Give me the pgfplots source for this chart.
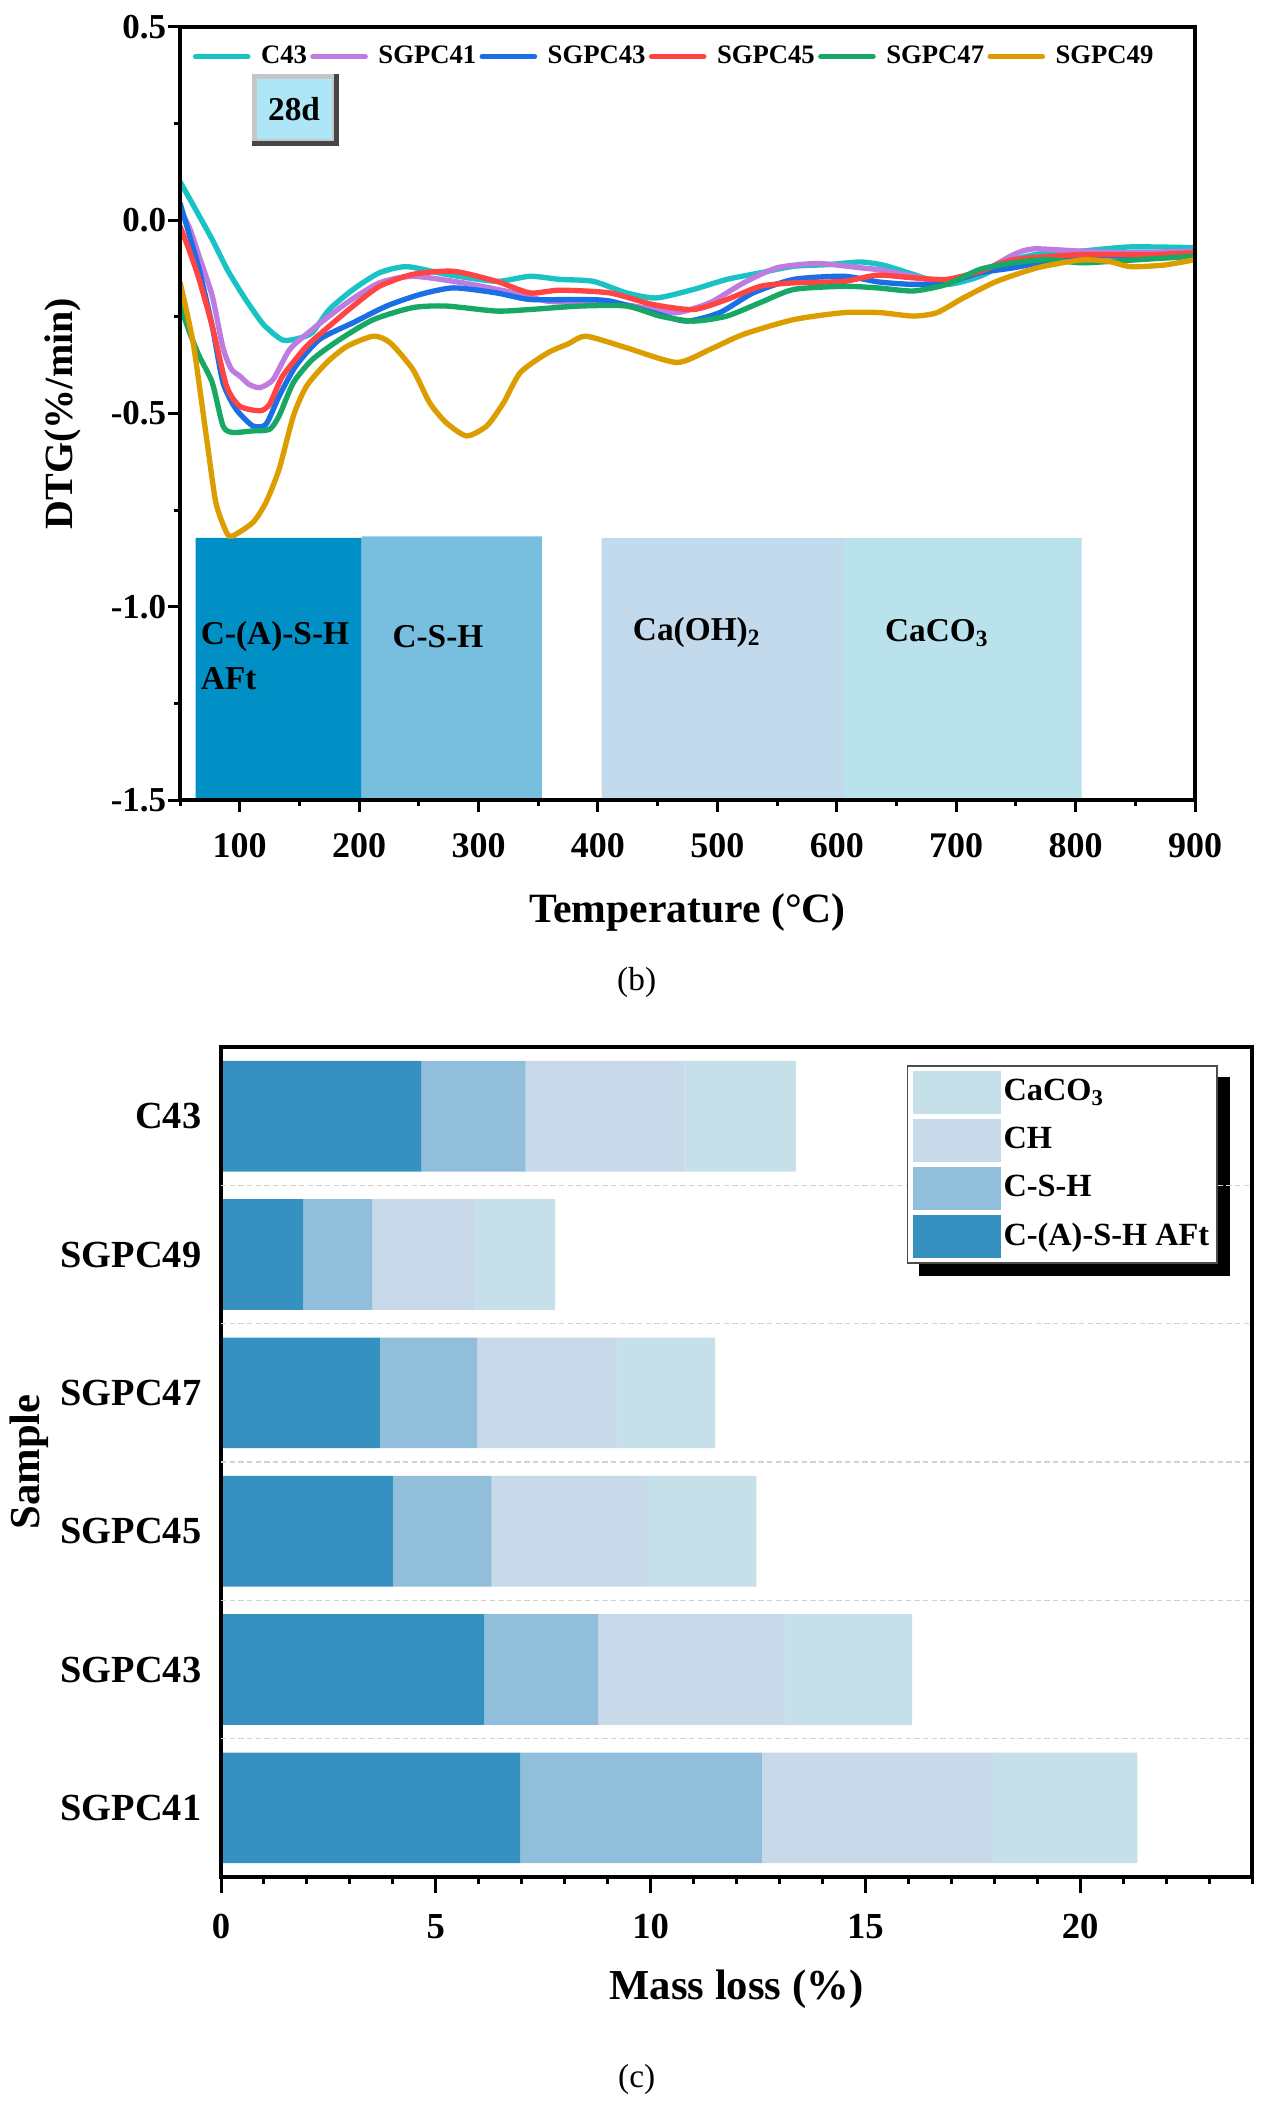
\documentclass[border=0pt]{standalone}
\usepackage{pgfplots}
\usepackage{pgfplotstable}
\pgfplotsset{compat=1.18}
\usepackage{fontspec}
\setmainfont{Liberation Serif}
\usetikzlibrary{backgrounds}

% curve colours
\definecolor{cCfour}{HTML}{19C3C3}
\definecolor{cSone}{HTML}{BE7BE0}
\definecolor{cSthree}{HTML}{1A6EE6}
\definecolor{cSfive}{HTML}{FF4444}
\definecolor{cSseven}{HTML}{17A865}
\definecolor{cSnine}{HTML}{DC9D00}
% phase bands
\definecolor{bAFt}{HTML}{0090C6}
\definecolor{bCSH}{HTML}{78BEDE}
\definecolor{bCH}{HTML}{C3D9EC}
\definecolor{bCC}{HTML}{B9E2EC}
\definecolor{boxfill}{HTML}{ADE6F6}
% stacked bars
\definecolor{sAFt}{HTML}{3690C0}
\definecolor{sCSH}{HTML}{91BEDB}
\definecolor{sCH}{HTML}{C8D9EA}
\definecolor{sCC}{HTML}{C6E0EA}

% mass loss per phase (%), samples bottom to top
\pgfplotstableread{
pos AFt  CSH  CH   CaCO3
0   6.97 5.62 5.36 3.38
1   6.13 2.65 4.36 2.95
2   4.00 2.30 3.62 2.54
3   3.70 2.26 3.27 2.27
4   1.92 1.60 2.40 1.86
5   4.66 2.43 3.70 2.59
}\massloss

\begin{document}
\begin{tikzpicture}
\useasboundingbox (0,0) rectangle (380.4pt,-633.3pt);

% ---------------- (b) DTG curves ----------------
\begin{axis}[
  at={(54pt,-240pt)}, anchor=south west,
  scale only axis, width=304.5pt, height=231.9pt,
  xmin=50, xmax=900, ymin=-1.5, ymax=0.5,
  xtick={100,200,...,900},
  minor xtick={50,150,...,850},
  ytick={-1.5,-1,-0.5,0,0.5},
  yticklabels={-1.5,-1.0,-0.5,0.0,0.5},
  minor ytick={-1.25,-0.75,-0.25,0.25},
  xtick pos=bottom, ytick pos=left, tick align=outside,
  major tick length=3.6pt, minor tick length=1.8pt,
  every tick/.style={black, line width=0.9pt},
  axis line style={line width=1.1pt},
  /pgf/number format/assume math mode=true,
  xticklabel style={font=\bfseries\fontsize{10.8}{12}\selectfont, yshift=-3pt},
  yticklabel style={font=\bfseries\fontsize{10.5}{12}\selectfont, xshift=3pt},
  xlabel={Temperature (°C)},
  ylabel={DTG(\%/min)},
  xlabel style={font=\bfseries\fontsize{12.5}{14}\selectfont, at={(axis description cs:0.5,-0.1457)}, anchor=center},
  ylabel style={font=\bfseries\fontsize{12}{14}\selectfont, at={(axis description cs:-0.1153,0.5)}, anchor=center},
  axis on top,
  legend columns=6,
  legend style={at={(axis description cs:0.012,0.9616)}, anchor=west,
    draw=none, fill=none, inner sep=0pt,
    font=\bfseries\fontsize{8}{9}\selectfont,
    nodes={inner sep=1pt},
    /tikz/every odd column/.append style={column sep=2.15pt}},
  legend image code/.code={\draw[#1, line width=1.6pt, line cap=round] (0.8pt,0pt) -- (16.5pt,0pt);},
]
% temperature ranges of the decomposing phases
\addplot[fill=bAFt, draw=none, forget plot] coordinates {(63,-1.5) (63,-0.822) (202,-0.822) (202,-1.5) (63,-1.5)};
\addplot[fill=bCSH, draw=none, forget plot] coordinates {(202,-1.5) (202,-0.818) (353,-0.818) (353,-1.5) (202,-1.5)};
\addplot[fill=bCH, draw=none, forget plot] coordinates {(403,-1.5) (403,-0.822) (606,-0.822) (606,-1.5) (403,-1.5)};
\addplot[fill=bCC, draw=none, forget plot] coordinates {(606,-1.5) (606,-0.822) (805,-0.822) (805,-1.5) (606,-1.5)};

\addplot[cCfour, line width=1.6pt, smooth, tension=0.4] coordinates {
(50,0.10) (60,0.045) (77,-0.05) (90,-0.13) (105,-0.205) (120,-0.27) (136,-0.31) (150,-0.305) (161,-0.29) (175,-0.231) (195,-0.179) (217,-0.136) (240,-0.120) (273,-0.140) (315,-0.158) (343,-0.145) (368,-0.153) (396,-0.158) (424,-0.188) (449,-0.201) (480,-0.179) (508,-0.153) (536,-0.136) (564,-0.119) (592,-0.115) (620,-0.108) (640,-0.117) (664,-0.140) (692,-0.166) (720,-0.145) (748,-0.102) (776,-0.084) (804,-0.080) (846,-0.069) (900,-0.071)};
\addlegendentry{C43}
\addplot[cSone, line width=1.6pt, smooth, tension=0.4] coordinates {
(50,0.028) (58,-0.02) (66,-0.093) (77,-0.196) (86,-0.33) (93,-0.385) (100,-0.403) (108,-0.425) (117,-0.433) (128,-0.412) (142,-0.334) (161,-0.282) (190,-0.213) (217,-0.162) (245,-0.145) (287,-0.162) (330,-0.188) (357,-0.209) (385,-0.213) (410,-0.213) (438,-0.226) (466,-0.239) (494,-0.213) (522,-0.162) (550,-0.123) (584,-0.112) (620,-0.123) (640,-0.130) (664,-0.145) (692,-0.158) (720,-0.136) (748,-0.089) (765,-0.074) (804,-0.080) (846,-0.084) (900,-0.080)};
\addlegendentry{SGPC41}
\addplot[cSthree, line width=1.6pt, smooth, tension=0.4] coordinates {
(50,0.045) (58,-0.04) (66,-0.127) (77,-0.274) (86,-0.420) (97,-0.489) (111,-0.532) (122,-0.528) (133,-0.455) (147,-0.377) (167,-0.308) (195,-0.265) (223,-0.222) (251,-0.192) (279,-0.175) (315,-0.188) (343,-0.205) (385,-0.205) (410,-0.209) (446,-0.239) (474,-0.261) (502,-0.239) (530,-0.188) (564,-0.153) (606,-0.145) (636,-0.160) (664,-0.166) (692,-0.162) (720,-0.136) (748,-0.123) (776,-0.106) (804,-0.093) (860,-0.093) (900,-0.089)};
\addlegendentry{SGPC43}
\addplot[cSfive, line width=1.6pt, smooth, tension=0.4] coordinates {
(50,-0.015) (58,-0.08) (66,-0.153) (77,-0.274) (89,-0.429) (100,-0.481) (117,-0.493) (125,-0.476) (136,-0.403) (156,-0.326) (175,-0.274) (195,-0.222) (217,-0.171) (245,-0.140) (279,-0.132) (315,-0.158) (343,-0.188) (368,-0.181) (410,-0.188) (446,-0.218) (480,-0.231) (508,-0.205) (536,-0.171) (564,-0.162) (606,-0.158) (634,-0.142) (664,-0.149) (692,-0.153) (720,-0.132) (748,-0.102) (804,-0.089) (860,-0.089) (900,-0.084)};
\addlegendentry{SGPC45}
\addplot[cSseven, line width=1.6pt, smooth, tension=0.4] coordinates {
(50,-0.22) (58,-0.29) (66,-0.351) (77,-0.420) (86,-0.532) (94,-0.549) (111,-0.545) (125,-0.541) (133,-0.506) (145,-0.420) (161,-0.360) (184,-0.308) (212,-0.257) (245,-0.226) (273,-0.222) (315,-0.235) (343,-0.231) (385,-0.222) (424,-0.222) (452,-0.248) (480,-0.261) (508,-0.248) (536,-0.213) (564,-0.179) (606,-0.171) (634,-0.175) (664,-0.183) (692,-0.166) (720,-0.127) (748,-0.110) (776,-0.102) (804,-0.110) (832,-0.106) (900,-0.093)};
\addlegendentry{SGPC47}
\addplot[cSnine, line width=1.6pt, smooth, tension=0.4] coordinates {
(50,-0.16) (61,-0.317) (72,-0.558) (80,-0.730) (89,-0.808) (94,-0.817) (111,-0.782) (122,-0.730) (133,-0.644) (145,-0.506) (156,-0.429) (173,-0.368) (190,-0.326) (212,-0.300) (226,-0.317) (245,-0.386) (259,-0.472) (273,-0.524) (290,-0.558) (307,-0.532) (321,-0.472) (335,-0.394) (358,-0.343) (375,-0.320) (390,-0.300) (424,-0.330) (466,-0.368) (494,-0.334) (522,-0.295) (564,-0.257) (606,-0.239) (636,-0.239) (664,-0.248) (684,-0.239) (706,-0.201) (734,-0.158) (768,-0.123) (804,-0.103) (827,-0.106) (846,-0.120) (874,-0.116) (900,-0.102)};
\addlegendentry{SGPC49}

% age tag with a bevelled frame
\node[name=agetag, fill=boxfill, draw=gray!45, line width=1.5pt, minimum width=24pt, minimum height=19.5pt, inner sep=0pt,
  font=\bfseries\fontsize{10}{12}\selectfont] at (axis cs:145.5,0.288) {28d};
\draw[gray!55!black, line width=1.5pt] (agetag.north east) -- (agetag.south east) -- (agetag.south west);
\begin{scope}[every node/.style={font=\bfseries\fontsize{10}{12}\selectfont, inner sep=0pt}]
\node[anchor=west] at (axis cs:67,-1.077) {C-(A)-S-H};
\node[anchor=west] at (axis cs:67,-1.185) {AFt};
\node at (axis cs:266,-1.077) {C-S-H};
\node at (axis cs:483,-1.066) {Ca(OH)\textsubscript{2}};
\node at (axis cs:684,-1.068) {CaCO\textsubscript{3}};
\end{scope}
\end{axis}
\node[font=\fontsize{10}{12}\selectfont] at (191pt,-294.8pt) {(b)};

% ---------------- (c) mass loss by phase ----------------
\begin{axis}[
  at={(66.3pt,-563.1pt)}, anchor=south west,
  scale only axis, width=309.3pt, height=249pt,
  xbar stacked, bar width=0.8,
  xmin=0, xmax=24, ymin=-0.5, ymax=5.5,
  xtick={0,5,...,20},
  minor xtick={0,1,...,24},
  ytick={0,1,2,3,4,5},
  yticklabels={SGPC41,SGPC43,SGPC45,SGPC47,SGPC49,C43},
  xtick pos=bottom, ytick pos=left, tick align=outside,
  major tick length=4.8pt, minor tick length=2.2pt,
  x tick style={black, line width=0.9pt},
  y tick style={draw=none},
  extra y ticks={0.5,1.5,2.5,3.5,4.5},
  extra y tick labels={},
  extra y tick style={grid=major, major grid style={gray!35, line width=0.4pt, dash pattern=on 1.6pt off 1pt}},
  axis line style={line width=1.1pt},
  /pgf/number format/assume math mode=true,
  xticklabel style={font=\bfseries\fontsize{11}{13}\selectfont, yshift=-2.8pt},
  yticklabel style={font=\bfseries\fontsize{11.5}{13}\selectfont, xshift=2.4pt},
  xlabel={Mass loss (\%)},
  ylabel={Sample},
  xlabel style={font=\bfseries\fontsize{12.8}{15}\selectfont, at={(axis description cs:0.5,-0.135)}, anchor=center},
  ylabel style={font=\bfseries\fontsize{12.8}{15}\selectfont, at={(axis description cs:-0.1857,0.5)}, anchor=center},
  axis on top,
  reverse legend,
  legend cell align=left,
  legend style={name=phaselegend, at={(axis description cs:0.967,0.978)}, anchor=north east,
    draw=gray!60!black, line width=0.5pt, fill=white, inner sep=1.5pt,
    font=\bfseries\fontsize{9.7}{11}\selectfont,
    nodes={inner sep=0.9pt},
    row sep=1.6pt,
    /tikz/every even column/.append style={column sep=2.2pt}},
  swatch/.style={legend image code/.code={\fill[##1] (0pt,-6.4pt) rectangle (26.4pt,6.4pt);}},
]
\addplot[fill=sAFt, draw=none, swatch] table[x=AFt, y=pos] {\massloss};
\addlegendentry{C-(A)-S-H AFt}
\addplot[fill=sCSH, draw=none, swatch] table[x=CSH, y=pos] {\massloss};
\addlegendentry{C-S-H}
\addplot[fill=sCH, draw=none, swatch] table[x=CH, y=pos] {\massloss};
\addlegendentry{CH}
\addplot[fill=sCC, draw=none, swatch] table[x=CaCO3, y=pos] {\massloss};
\addlegendentry{CaCO\textsubscript{3}}
\end{axis}
% solid shadow behind the legend box
\begin{scope}[on background layer]
\fill[black] ([shift={(3.6pt,-3.6pt)}]phaselegend.south west) rectangle ([shift={(3.6pt,-3.6pt)}]phaselegend.north east);
\end{scope}
\node[font=\fontsize{10}{12}\selectfont] at (191pt,-623.9pt) {(c)};
\end{tikzpicture}
\end{document}
